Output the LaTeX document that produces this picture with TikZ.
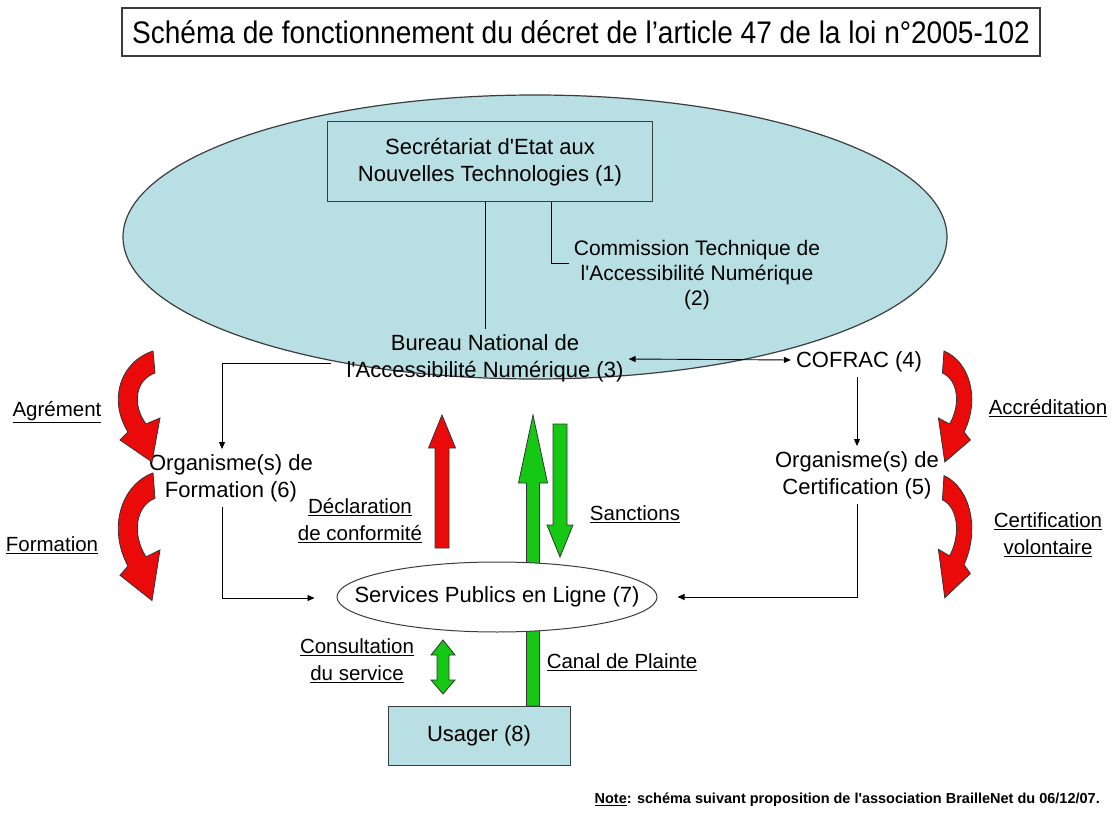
\documentclass[tikz,border=0pt]{standalone}
\usepackage{fontspec}
\setmainfont{Liberation Sans}[Ligatures=TeXOff]
\usetikzlibrary{arrows.meta,shapes.geometric}
\definecolor{paleblue}{RGB}{183,223,228}
\definecolor{fatgreen}{RGB}{20,200,20}
\definecolor{fatred}{RGB}{235,10,10}
\definecolor{edge}{RGB}{60,60,60}

\tikzset{
    txt/.style={font=\fontsize{22}{27}\selectfont, align=center, inner sep=5pt},
    tag/.style={font=\fontsize{20.5}{27}\selectfont, align=center, inner sep=0pt},
    boxed/.style={draw=edge, line width=1pt, fill=paleblue, minimum width=#1},
    plain/.style={line width=0.9pt},
    link/.style={plain, -{Triangle[length=7pt,width=6pt]}},
    block/.style={fill=#1, draw=black!80, line width=0.8pt},
    curl/.pic={
        \filldraw[block=fatred] (20,-54) .. controls (-13,-43) and (-25,-5) .. (-5,27)
            -- (-13,35) -- (19,57) -- (27,13) -- (13,19)
            .. controls (-1,0) and (2,-25) .. (22,-32) -- cycle;
    }
}

% fat vertical arrow: x, tail, head base, tip, half shaft, half head, colour
\newcommand\fatarrow[7]{%
    \filldraw[block=#7] ({#1-#5},#2) -- ({#1-#5},#3) -- ({#1-#6},#3) -- (#1,#4)
        -- ({#1+#6},#3) -- ({#1+#5},#3) -- ({#1+#5},#2) -- cycle;
}

\begin{document}
\begin{tikzpicture}[x=1pt, y=-1pt]
    \useasboundingbox (0,0) rectangle (1112,813);

    % title
    \node[draw=edge, line width=1.5pt, minimum width=918, minimum height=48,
        font=\fontsize{26}{28}\selectfont] (title) at (581,32)
        {\scalebox{1.08}[1.2]{Schéma de fonctionnement du décret de l’article 47 de la loi n°2005-102}};

    % the state
    \node[ellipse, draw=edge, line width=1.2pt, fill=paleblue,
        minimum width=824, minimum height=284] (state) at (535,237) {};
    \node[txt, draw=edge, line width=1pt, minimum width=325, minimum height=80] (sec) at (490,162)
        {Secrétariat d'Etat aux\\Nouvelles Technologies (1)};
    \node[txt, font=\fontsize{21}{25}\selectfont] (ctan) at (697,275)
        {Commission Technique de\\l'Accessibilité Numérique\\(2)};
    \node[txt] (bna) at (485,358) {Bureau National de\\l'Accessibilité Numérique (3)};
    \node[txt] (cofrac) at (859,362) {COFRAC (4)};

    \node[txt] (org6) at (231,478) {Organisme(s) de\\Formation (6)};
    \node[txt] (org5) at (857,475) {Organisme(s) de\\Certification (5)};

    % fat arrows
    \fatarrow{442}{548}{448}{415}{7}{13.5}{fatred}
    \fatarrow{533}{706}{483}{415}{6.5}{14.5}{fatgreen}
    \fatarrow{560}{424}{525}{557}{7}{13}{fatgreen}
    \filldraw[block=fatgreen] (437,655) -- (431,655) -- (443,640) -- (455,655) -- (449,655)
        -- (449,680) -- (455,680) -- (443,694) -- (431,680) -- (437,680) -- cycle;

    \node[ellipse, draw=edge, line width=1pt, fill=white,
        minimum width=320, minimum height=70] (srv) at (497,597) {};
    \node[txt] (srvtxt) at (srv) {Services Publics en Ligne (7)};
    \node[txt, boxed=182, minimum height=59] (usager) at (479,736) {Usager (8)};

    % thin links
    \draw[plain] (sec.south -| bna.north) -- (bna.north);
    \draw[plain] ([xshift=61pt]sec.south) |- ([yshift=12pt]ctan.west);
    \draw[plain, {Triangle[length=7pt,width=6pt]}-{Triangle[length=7pt,width=6pt]}]
        ([yshift=-1pt]bna.east) -- ([yshift=2pt]cofrac.west);
    \draw[link] ([xshift=-10pt,yshift=-5pt]bna.west) -| ([xshift=-9pt]org6.north);
    \draw[link] ([xshift=-2pt]cofrac.south) -- (org5.north);
    \draw[link, shorten >=22pt] ([xshift=-9pt]org6.south) |- ([yshift=-1pt]srv.west);
    \draw[link, shorten >=20pt] (org5.south) |- (srv.east);

    \node[tag] (decl) at (360,521) {\underline{Déclaration}\\\underline{de conformité}};
    \node[tag] (sanc) at (635,514) {\underline{Sanctions}};
    \node[tag] (cons) at (357,661) {\underline{Consultation}\\\underline{du service}};
    \node[tag] (canal) at (622,662) {\underline{Canal de Plainte}};

    % curled arrows at the sides
    \pic at (133,405) {curl};
    \pic[yscale=1.15] at (133,535) {curl};
    \pic[xscale=-0.8] at (960,405) {curl};
    \pic[xscale=-0.8, yscale=1.1] at (960,535) {curl};

    \node[tag] (agr) at (57,412) {\underline{Agrément}};
    \node[tag] (form) at (52,545) {\underline{Formation}};
    \node[tag] (accr) at (1048,408) {\underline{Accréditation}};
    \node[tag] (certv) at (1048,535) {\underline{Certification}\\\underline{volontaire}};

    % note
    \node[anchor=east, inner sep=0pt, font=\bfseries\fontsize{14.5}{16}\selectfont] (note)
        at (1100,800) {\underline{Note}: schéma suivant proposition de l'association BrailleNet du 06/12/07.};
\end{tikzpicture}
\end{document}
